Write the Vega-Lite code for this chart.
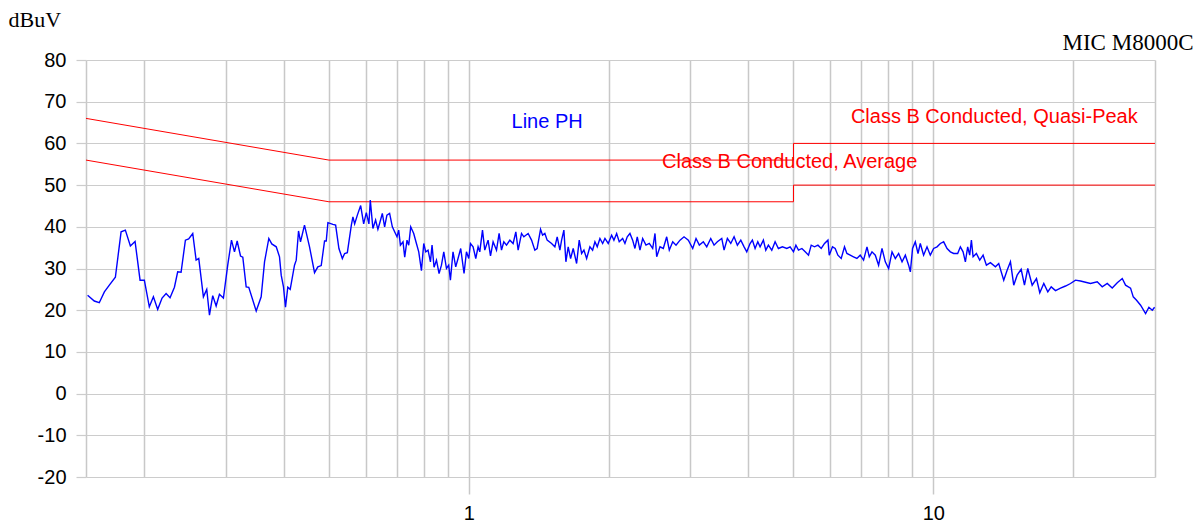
{
"$schema": "https://vega.github.io/schema/vega-lite/v6.json",
"width": 1069, "height": 417,
"autosize": {"type": "none"},
"padding": {"left": 86, "top": 60, "right": 40, "bottom": 47},
"background": "white",
"config": {"view": {"stroke": null}},
"resolve": {"axis": {"x": "independent"}},
"datasets": {
"limits": [
{"s": "Quasi-Peak", "o": 1, "f": 0.15, "v": 66},
{"s": "Quasi-Peak", "o": 2, "f": 0.5, "v": 56},
{"s": "Quasi-Peak", "o": 3, "f": 5, "v": 56},
{"s": "Quasi-Peak", "o": 4, "f": 5, "v": 60},
{"s": "Quasi-Peak", "o": 5, "f": 30, "v": 60},
{"s": "Average", "o": 1, "f": 0.15, "v": 56},
{"s": "Average", "o": 2, "f": 0.5, "v": 46},
{"s": "Average", "o": 3, "f": 5, "v": 46},
{"s": "Average", "o": 4, "f": 5, "v": 50},
{"s": "Average", "o": 5, "f": 30, "v": 50}
],
"labels": [
{"t": "Line PH", "k": "trace", "f": 1.236, "v": 63.6},
{"t": "Class B Conducted, Quasi-Peak", "k": "limit", "f": 6.646, "v": 64.8},
{"t": "Class B Conducted, Average", "k": "limit", "f": 2.606, "v": 54.0}
],
"trace": [
{"f":0.1512,"v":23.6},{"f":0.1563,"v":22.2},{"f":0.1602,"v":21.8},{"f":0.1643,"v":24.4},{"f":0.1684,"v":26.0},{"f":0.1735,"v":27.9},{"f":0.1785,"v":38.8},{"f":0.1823,"v":39.2},{"f":0.1869,"v":35.4},{"f":0.1913,"v":36.5},{"f":0.1961,"v":27.2},{"f":0.2003,"v":27.2},{"f":0.2053,"v":20.8},{"f":0.2095,"v":23.2},{"f":0.2140,"v":20.2},{"f":0.2187,"v":22.9},{"f":0.2231,"v":24.0},{"f":0.2275,"v":23.0},{"f":0.2325,"v":25.5},{"f":0.2363,"v":29.2},{"f":0.2403,"v":29.1},{"f":0.2455,"v":36.8},{"f":0.2495,"v":37.1},{"f":0.2546,"v":38.4},{"f":0.2589,"v":32.0},{"f":0.2623,"v":32.4},{"f":0.2684,"v":23.2},{"f":0.2729,"v":25.0},{"f":0.2766,"v":18.8},{"f":0.2811,"v":23.5},{"f":0.2859,"v":21.0},{"f":0.2906,"v":23.8},{"f":0.2964,"v":22.9},{"f":0.3028,"v":30.8},{"f":0.3085,"v":36.8},{"f":0.3131,"v":34.0},{"f":0.3173,"v":36.6},{"f":0.3226,"v":33.0},{"f":0.3263,"v":32.7},{"f":0.3318,"v":25.6},{"f":0.3361,"v":25.5},{"f":0.3487,"v":19.8},{"f":0.3574,"v":23.2},{"f":0.3634,"v":31.6},{"f":0.3712,"v":37.2},{"f":0.3767,"v":35.9},{"f":0.3851,"v":35.2},{"f":0.3914,"v":32.8},{"f":0.3947,"v":28.4},{"f":0.3992,"v":25.6},{"f":0.4032,"v":20.7},{"f":0.4078,"v":25.5},{"f":0.4127,"v":25.0},{"f":0.4216,"v":30.8},{"f":0.4252,"v":32.0},{"f":0.4301,"v":39.0},{"f":0.4343,"v":36.4},{"f":0.4430,"v":40.4},{"f":0.4542,"v":35.2},{"f":0.4656,"v":29.0},{"f":0.4733,"v":30.4},{"f":0.4813,"v":30.7},{"f":0.4893,"v":36.6},{"f":0.4934,"v":36.6},{"f":0.4975,"v":41.0},{"f":0.5100,"v":40.6},{"f":0.5169,"v":40.4},{"f":0.5254,"v":34.8},{"f":0.5344,"v":32.4},{"f":0.5405,"v":33.6},{"f":0.5478,"v":33.8},{"f":0.5588,"v":40.4},{"f":0.5632,"v":42.4},{"f":0.5680,"v":40.7},{"f":0.5757,"v":42.8},{"f":0.5852,"v":45.1},{"f":0.5940,"v":40.7},{"f":0.6018,"v":43.4},{"f":0.6096,"v":40.7},{"f":0.6138,"v":46.4},{"f":0.6218,"v":39.6},{"f":0.6302,"v":41.6},{"f":0.6374,"v":39.4},
{"f":0.6428,"v":40.8},{"f":0.6515,"v":43.2},{"f":0.6590,"v":40.0},{"f":0.6665,"v":42.8},{"f":0.6755,"v":43.2},{"f":0.6847,"v":40.0},{"f":0.6925,"v":38.8},{"f":0.7007,"v":37.6},{"f":0.7066,"v":39.2},{"f":0.7126,"v":35.6},{"f":0.7219,"v":36.4},{"f":0.7280,"v":32.7},{"f":0.7363,"v":36.8},{"f":0.7426,"v":35.6},{"f":0.7500,"v":40.0},{"f":0.7612,"v":38.4},{"f":0.7715,"v":36.0},{"f":0.7804,"v":34.0},{"f":0.7909,"v":29.5},{"f":0.8000,"v":36.0},{"f":0.8080,"v":34.0},{"f":0.8172,"v":34.4},{"f":0.8270,"v":31.6},{"f":0.8336,"v":35.6},{"f":0.8419,"v":30.3},{"f":0.8521,"v":32.0},{"f":0.8631,"v":28.8},{"f":0.8734,"v":30.8},{"f":0.8835,"v":34.0},{"f":0.8954,"v":30.0},{"f":0.9054,"v":30.8},{"f":0.9130,"v":27.2},{"f":0.9249,"v":34.0},{"f":0.9374,"v":30.4},{"f":0.9482,"v":32.4},{"f":0.9609,"v":34.8},{"f":0.9768,"v":28.8},{"f":0.9886,"v":34.0},{"f":1.0000,"v":32.4},{"f":1.0085,"v":36.0},{"f":1.0216,"v":35.2},{"f":1.0353,"v":32.4},{"f":1.0473,"v":35.2},{"f":1.0561,"v":34.0},{"f":1.0704,"v":39.2},{"f":1.0826,"v":34.4},{"f":1.1005,"v":36.8},{"f":1.1137,"v":33.0},{"f":1.1282,"v":36.4},{"f":1.1474,"v":34.4},{"f":1.1623,"v":38.4},{"f":1.1762,"v":34.4},{"f":1.1897,"v":36.4},{"f":1.2057,"v":35.6},{"f":1.2257,"v":36.8},{"f":1.2459,"v":36.0},{"f":1.2627,"v":38.8},{"f":1.2772,"v":34.4},{"f":1.2989,"v":38.4},{"f":1.3138,"v":37.6},{"f":1.3422,"v":38.4},{"f":1.3650,"v":36.8},{"f":1.3875,"v":34.4},{"f":1.4034,"v":34.8},{"f":1.4273,"v":39.4},
{"f":1.4416,"v":38.0},{"f":1.4581,"v":38.4},{"f":1.4748,"v":36.8},{"f":1.5075,"v":36.0},{"f":1.5323,"v":35.2},{"f":1.5500,"v":37.6},{"f":1.5709,"v":34.4},{"f":1.5842,"v":36.8},{"f":1.6023,"v":39.2},{"f":1.6183,"v":31.6},{"f":1.6369,"v":35.2},{"f":1.6566,"v":32.4},{"f":1.6781,"v":34.8},{"f":1.7066,"v":31.2},{"f":1.7288,"v":36.8},{"f":1.7495,"v":33.6},{"f":1.7697,"v":34.4},{"f":1.7935,"v":32.4},{"f":1.8229,"v":35.2},{"f":1.8475,"v":34.4},{"f":1.8688,"v":36.4},{"f":1.8903,"v":35.2},{"f":1.9158,"v":37.2},{"f":1.9417,"v":36.0},{"f":1.9639,"v":37.2},{"f":1.996,"v":36.0},{"f":2.0300,"v":38.0},{"f":2.0533,"v":36.8},{"f":2.0810,"v":38.4},{"f":2.1080,"v":36.4},{"f":2.1440,"v":37.2},{"f":2.1685,"v":36.0},{"f":2.1934,"v":37.6},{"f":2.2230,"v":38.4},{"f":2.2530,"v":36.8},{"f":2.2788,"v":34.8},{"f":2.3050,"v":37.6},{"f":2.3361,"v":34.4},{"f":2.3676,"v":37.2},{"f":2.4067,"v":35.6},{"f":2.4466,"v":36.0},{"f":2.4883,"v":34.8},{"f":2.5168,"v":38.4},{"f":2.5381,"v":32.8},{"f":2.5800,"v":35.2},{"f":2.6227,"v":34.8},{"f":2.6671,"v":37.6},{"f":2.7018,"v":34.4},{"f":2.7479,"v":36.4},{"f":2.7933,"v":35.6},{"f":2.8492,"v":36.8},{"f":2.9064,"v":37.6},{"f":2.9690,"v":36.8},{"f":3.0344,"v":34.8},{"f":3.0845,"v":37.2},{"f":3.1355,"v":35.6},{"f":3.1983,"v":36.4},{"f":3.2527,"v":35.2},{"f":3.3178,"v":37.2},{"f":3.3727,"v":35.6},{"f":3.4284,"v":36.4},{"f":3.5041,"v":37.2},{"f":3.5443,"v":34.4},{"f":3.6029,"v":37.2},{"f":3.6642,"v":36.0},{"f":3.7248,"v":37.6},{"f":3.7863,"v":35.6},{"f":3.8507,"v":36.8},{"f":3.9143,"v":35.2},{"f":3.9663,"v":34.0},
{"f":4.0319,"v":36.0},{"f":4.0783,"v":36.8},{"f":4.1333,"v":34.8},{"f":4.1891,"v":36.4},{"f":4.2371,"v":35.2},{"f":4.3068,"v":36.8},{"f":4.3587,"v":34.4},{"f":4.4152,"v":35.6},{"f":4.4900,"v":34.4},{"f":4.5643,"v":36.4},{"f":4.6397,"v":34.8},{"f":4.7325,"v":35.2},{"f":4.8373,"v":34.8},{"f":4.9169,"v":35.2},{"f":5.0,"v":34.0},{"f":5.0599,"v":35.6},{"f":5.1256,"v":34.4},{"f":5.2129,"v":34.8},{"f":5.2991,"v":34.0},{"f":5.3865,"v":33.2},{"f":5.4590,"v":35.6},{"f":5.5494,"v":35.2},{"f":5.6438,"v":35.6},{"f":5.7371,"v":34.8},{"f":5.8316,"v":36.0},{"f":5.9311,"v":36.8},{"f":5.9695,"v":33.2},{"f":6.0658,"v":35.2},{"f":6.1477,"v":34.8},{"f":6.2306,"v":33.2},{"f":6.3336,"v":32.4},{"f":6.4382,"v":35.2},{"f":6.5153,"v":33.6},{"f":6.6230,"v":33.2},{"f":6.7319,"v":32.8},{"f":6.8465,"v":32.4},{"f":6.9598,"v":33.2},{"f":7.0767,"v":32.0},{"f":7.1973,"v":35.2},{"f":7.2799,"v":32.8},{"f":7.3780,"v":34.0},{"f":7.5000,"v":33.2},{"f":7.6240,"v":30.8},{"f":7.7533,"v":34.8},{"f":7.8813,"v":31.6},{"f":8.012,"v":30.0},{"f":8.1484,"v":34.0},{"f":8.2826,"v":32.4},{"f":8.4195,"v":33.6},{"f":8.5629,"v":31.6},{"f":8.7043,"v":33.2},{"f":8.8477,"v":30.8},{"f":8.923,"v":29.2},{"f":9.022,"v":34.8},{"f":9.1442,"v":36.4},{"f":9.2676,"v":33.6},{"f":9.3738,"v":36.0},{"f":9.5289,"v":33.2},{"f":9.6910,"v":35.2},{"f":9.8506,"v":33.2},{"f":10.015,"v":34.8},{"f":10.185,"v":35.2},{"f":10.353,"v":36.0},{"f":10.524,"v":36.4},{"f":10.704,"v":34.8},{"f":10.881,"v":34.0},
{"f":11.060,"v":33.6},{"f":11.282,"v":33.6},{"f":11.434,"v":35.2},{"f":11.588,"v":34.0},{"f":11.721,"v":31.6},{"f":11.856,"v":35.2},{"f":11.974,"v":33.2},{"f":12.076,"v":36.8},{"f":12.178,"v":32.8},{"f":12.379,"v":33.6},{"f":12.584,"v":32.0},{"f":12.797,"v":33.2},{"f":13.008,"v":30.8},{"f":13.270,"v":31.4},{"f":13.603,"v":30.4},{"f":13.828,"v":31.2},{"f":14.175,"v":27.2},{"f":14.415,"v":29.6},{"f":14.654,"v":31.6},{"f":14.896,"v":26.0},{"f":15.149,"v":28.4},{"f":15.454,"v":29.8},{"f":15.709,"v":26.0},{"f":15.968,"v":30.0},{"f":16.321,"v":26.0},{"f":16.673,"v":27.6},{"f":16.948,"v":24.2},{"f":17.288,"v":26.4},{"f":17.635,"v":24.4},{"f":17.935,"v":25.6},{"f":18.321,"v":24.7},{"f":18.782,"v":25.3},{"f":19.253,"v":25.8},{"f":19.737,"v":26.4},{"f":20.229,"v":27.2},{"f":20.738,"v":27.0},{"f":21.258,"v":26.7},{"f":21.793,"v":26.4},{"f":22.530,"v":26.8},{"f":23.096,"v":25.6},{"f":23.676,"v":26.4},{"f":24.270,"v":25.3},{"f":24.883,"v":26.6},{"f":25.506,"v":27.6},{"f":25.925,"v":26.0},{"f":26.576,"v":25.3},{"f":26.936,"v":23.2},{"f":27.380,"v":22.4},{"f":27.933,"v":21.2},{"f":28.633,"v":19.2},{"f":29.106,"v":20.7},{"f":29.601,"v":20.0},{"f":29.94,"v":20.7}
]
},
"encoding": {
"y": {"field": "v", "type": "quantitative",
 "scale": {"domain": [-20, 80], "nice": false, "zero": false},
 "axis": {"title": "dBuV", "values": [-20,-10,0,10,20,30,40,50,60,70,80],
  "grid": true, "gridColor": "#cccccc", "gridWidth": 1.2, "domain": false,
  "tickColor": "#cccccc", "tickWidth": 1.2, "tickSize": 10,
  "labelExpr": "toString(datum.value)",
  "labelFont": "Liberation Sans", "labelFontSize": 20, "labelColor": "black", "labelPadding": 10,
  "titleAngle": 0, "titleX": -78, "titleY": -34, "titleAlign": "left", "titleBaseline": "alphabetic",
  "titleFont": "Liberation Serif", "titleFontSize": 22, "titleFontWeight": "normal", "titleColor": "black"}}
},
"layer": [
{"data": {"name": "limits"}, "mark": {"type": "line", "color": "#ff0000", "strokeWidth": 1},
 "encoding": {
  "x": {"field": "f", "type": "quantitative",
   "scale": {"type": "log", "domain": [0.15, 30], "nice": false, "zero": false},
   "axis": {"title": null, "values": [0.15,0.2,0.3,0.4,0.5,0.6,0.7,0.8,0.9,1,2,3,4,5,6,7,8,9,10,20,30],
    "grid": true, "gridColor": "#c8c8c8", "gridWidth": 1.5, "domain": false,
    "tickColor": "#c8c8c8", "tickWidth": 1.5, "tickSize": 17,
    "tickOpacity": {"condition": {"test": "datum.value == 1 || datum.value == 10", "value": 1}, "value": 0},
    "labelExpr": "datum.value == 1 || datum.value == 10 ? datum.label : ''",
    "labelFont": "Liberation Sans", "labelFontSize": 20, "labelColor": "black", "labelPadding": 9,
    "labelFlush": false, "labelOverlap": false}},
  "detail": {"field": "s"}, "order": {"field": "o", "type": "quantitative"}}},
{"data": {"name": "trace"}, "mark": {"type": "line", "color": "#0000ff", "strokeWidth": 1.4},
 "encoding": {"x": {"field": "f", "type": "quantitative", "axis": null}}},
{"data": {"name": "labels"}, "mark": {"type": "text", "font": "Liberation Sans", "fontSize": 20, "align": "left", "baseline": "alphabetic"},
 "encoding": {
  "x": {"field": "f", "type": "quantitative",
   "axis": {"orient": "top", "title": "MIC M8000C", "labels": false, "ticks": false, "domain": false, "grid": false,
    "titleX": 1107, "titleY": -10.7, "titleAlign": "right", "titleBaseline": "alphabetic", "titleAngle": 0,
    "titleFont": "Liberation Serif", "titleFontSize": 23, "titleFontWeight": "normal", "titleColor": "black"}},
  "text": {"field": "t"},
  "color": {"field": "k", "type": "nominal", "scale": {"domain": ["trace", "limit"], "range": ["#0000ff", "#ff0000"]}, "legend": null}}}
]
}
